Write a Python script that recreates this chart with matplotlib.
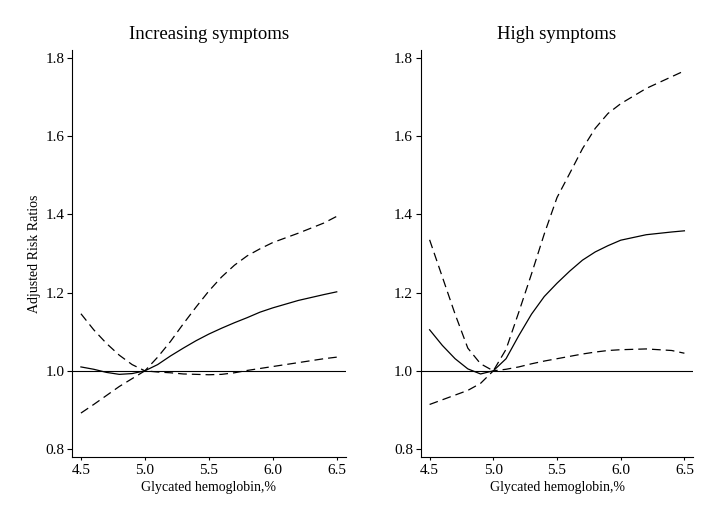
import matplotlib
matplotlib.use('Agg')
import matplotlib.pyplot as plt

plt.rcParams['font.family'] = ['Liberation Serif', 'DejaVu Serif']

# DATA
hba1c = [4.5, 4.6, 4.7, 4.8, 4.9, 5.0, 5.1, 5.2, 5.3, 5.4, 5.5,
         5.6, 5.7, 5.8, 5.9, 6.0, 6.2, 6.4, 6.5]

inc_rr    = [1.010, 1.004, 0.996, 0.991, 0.993, 1.000, 1.016, 1.038, 1.058, 1.077, 1.094,
             1.109, 1.123, 1.136, 1.150, 1.161, 1.180, 1.195, 1.202]
inc_upper = [1.146, 1.105, 1.070, 1.040, 1.016, 1.000, 1.035, 1.075, 1.120, 1.163, 1.204,
             1.240, 1.270, 1.294, 1.312, 1.328, 1.352, 1.378, 1.395]
inc_lower = [0.892, 0.914, 0.937, 0.960, 0.980, 1.000, 0.997, 0.995, 0.992, 0.991, 0.990,
             0.991, 0.995, 1.001, 1.006, 1.011, 1.021, 1.031, 1.035]

high_rr    = [1.105, 1.065, 1.031, 1.005, 0.992, 1.000, 1.031, 1.090, 1.145, 1.190, 1.224,
              1.255, 1.283, 1.304, 1.320, 1.334, 1.348, 1.355, 1.358]
high_upper = [1.335, 1.240, 1.145, 1.058, 1.018, 1.000, 1.055, 1.150, 1.248, 1.350, 1.443,
              1.505, 1.568, 1.620, 1.658, 1.683, 1.722, 1.752, 1.767]
high_lower = [0.914, 0.926, 0.938, 0.950, 0.968, 1.000, 1.004, 1.010, 1.018, 1.025, 1.031,
              1.037, 1.043, 1.048, 1.052, 1.054, 1.056, 1.052, 1.045]

titles = ["Increasing symptoms", "High symptoms"]
xticks = [4.5, 5.0, 5.5, 6.0, 6.5]
yticks = [0.8, 1.0, 1.2, 1.4, 1.6, 1.8]

panels = [
    (inc_rr, inc_upper, inc_lower),
    (high_rr, high_upper, high_lower),
]

DASH = (0, (7, 4))

fig = plt.figure(figsize=(7.19, 5.22), dpi=100)
ax_left = fig.add_axes([0.1001, 0.124, 0.3807, 0.780])
ax_right = fig.add_axes([0.5851, 0.124, 0.3792, 0.780])

for ax, title, (rr, up, lo) in zip([ax_left, ax_right], titles, panels):
    ax.plot(hba1c, rr, color="black", linewidth=0.9)
    ax.plot(hba1c, up, color="black", linewidth=0.9, linestyle=DASH)
    ax.plot(hba1c, lo, color="black", linewidth=0.9, linestyle=DASH)
    ax.axhline(1.0, color="black", linewidth=0.8)

    ax.set_xlim(4.43, 6.57)
    ax.set_ylim(0.779, 1.82)
    ax.set_xticks(xticks)
    ax.set_xticklabels([f"{t:.1f}" for t in xticks])
    ax.set_yticks(yticks)
    ax.set_yticklabels([f"{t:.1f}" for t in yticks])

    ax.spines["top"].set_visible(False)
    ax.spines["right"].set_visible(False)
    for s in ["left", "bottom"]:
        ax.spines[s].set_linewidth(0.8)
    ax.tick_params(axis="y", direction="out", length=3.6, width=0.8, labelsize=11, pad=2)
    ax.tick_params(axis="x", direction="out", length=2.5, width=0.8, labelsize=11, pad=2)

    ax.set_title(title, fontsize=13.5, pad=8)
    ax.set_xlabel("Glycated hemoglobin,%", fontsize=10, labelpad=3)

ax_left.set_ylabel("Adjusted Risk Ratios", fontsize=10, labelpad=3)

fig.savefig("out.png", dpi=100)
